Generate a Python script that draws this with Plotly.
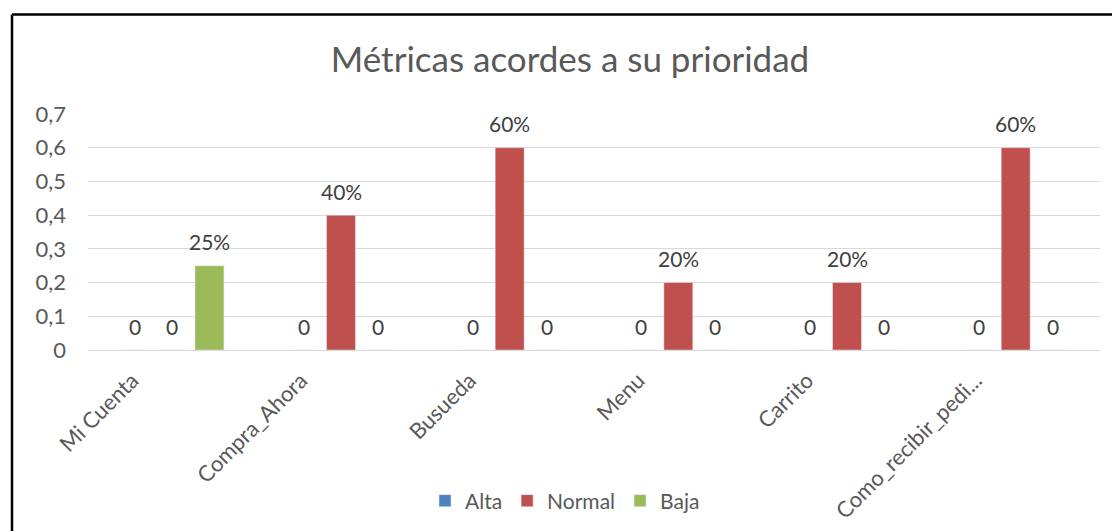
import plotly.graph_objects as go

W, H = 1112, 531

categories = ["Mi Cuenta", "Compra_Ahora", "Busueda", "Menu", "Carrito", "Como_recibir_pedi..."]
alta = [0, 0, 0, 0, 0, 0]
normal = [0, 0.4, 0.6, 0.2, 0.2, 0.6]
baja = [0.25, 0, 0, 0, 0, 0]

series = [("Alta", alta, "#4f81bd"), ("Normal", normal, "#c0504d"), ("Baja", baja, "#9bbb59")]

FONT = "Lato, 'Noto Sans', sans-serif"

# plot area in pixels
L, R, T, B = 88, 12, 114, 181
pw, ph = W - L - R, H - T - B
BARGAP, GROUPGAP = 0.34, 0.22


def px(x):
    return (x - L) / pw


def py(y):
    return (H - B - y) / ph


def label(v):
    return f"{v:.0%}" if v else "0"


fig = go.Figure()
for name, vals, color in series:
    fig.add_trace(go.Bar(name=name, x=categories, y=vals, marker_color=color))

# value labels above each bar, offset to the bar's slot inside its group
slot = pw / len(categories) * (1 - BARGAP) / len(series)
for i, (name, vals, color) in enumerate(series):
    for cat, v in zip(categories, vals):
        fig.add_annotation(x=cat, y=v, text=label(v), showarrow=False,
                           xshift=(i - (len(series) - 1) / 2) * slot, yshift=24,
                           yanchor="middle", xanchor="center",
                           font=dict(size=21, color="#404040", family=FONT))

fig.update_layout(
    width=W, height=H,
    margin=dict(l=L, r=R, t=T, b=B, autoexpand=False),
    paper_bgcolor="white", plot_bgcolor="white",
    separators=",.",
    barmode="group", bargap=BARGAP, bargroupgap=GROUPGAP,
    font=dict(family=FONT, color="#595959"),
    title=dict(text="Métricas acordes a su prioridad", x=570 / W, xanchor="center",
               y=1 - 60 / H, yanchor="middle",
               font=dict(size=35, color="#595959", family=FONT)),
    legend=dict(orientation="h", x=px(565), xanchor="center", y=py(501), yanchor="middle",
                font=dict(size=21, color="#595959"), itemwidth=30, traceorder="normal"),
    showlegend=True,
)

fig.update_yaxes(range=[0, 0.7], dtick=0.1, tickformat=".1~f", showgrid=True, automargin=False,
                 gridcolor="#d9d9d9", gridwidth=1, zeroline=True, zerolinecolor="#d9d9d9",
                 zerolinewidth=1, showline=False, ticks="", tickfont=dict(size=22, color="#595959"),
                 ticklabelstandoff=21)
fig.update_xaxes(showgrid=False, showline=True, linecolor="#d9d9d9", linewidth=1, ticks="",
                 automargin=False, tickangle=-45, tickfont=dict(size=22, color="#595959"),
                 ticklabelshift=-40, ticklabelstandoff=8)

# outer frame (top and left edges visible)
fig.add_shape(type="line", xref="paper", yref="paper", x0=px(12), x1=px(W + 5), y0=py(14.5), y1=py(14.5),
              line=dict(color="black", width=2.5))
fig.add_shape(type="line", xref="paper", yref="paper", x0=px(12), x1=px(12), y0=py(14.5), y1=py(H + 5),
              line=dict(color="black", width=2.5))

fig.write_html("out.html")
